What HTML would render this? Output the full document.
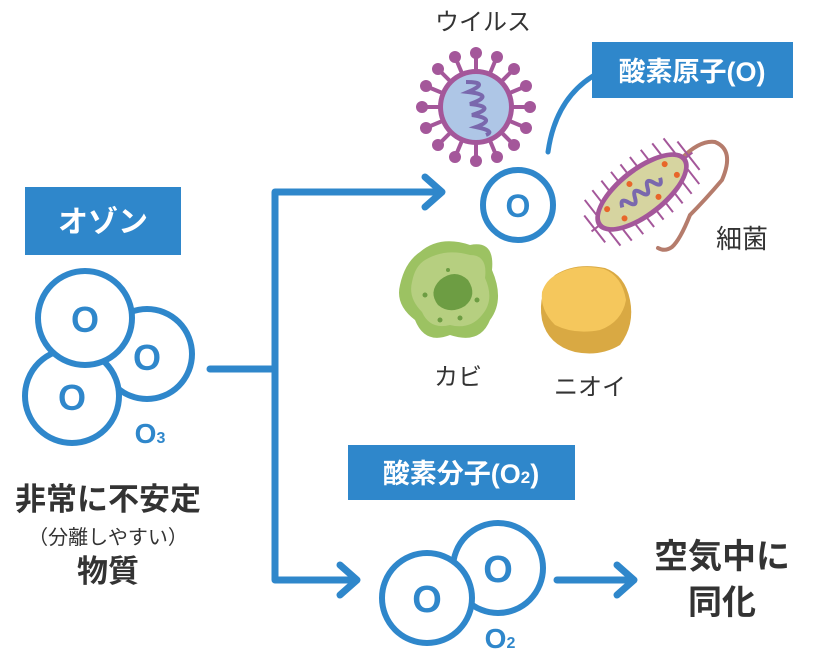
<!DOCTYPE html>
<html><head><meta charset="utf-8"><style>
html,body{margin:0;padding:0;background:#fff;}
svg{display:block;}
text{font-family:"Liberation Sans","Noto Sans CJK JP",sans-serif;}
</style></head><body>
<svg width="820" height="651" viewBox="0 0 820 651" xmlns="http://www.w3.org/2000/svg">
<g fill="none" stroke="#2f87cb" stroke-width="7" stroke-linecap="round" stroke-linejoin="round">
<path d="M210 369 H275 M275 192 V580 M275 192 H440 M425 177 L442 192 L425 207 M275 580 H355 M340 565 L357 580 L340 595 M557 580 H632 M617 565 L634 580 L617 595"/>
<path d="M548 152 Q556 95 600 72" stroke-width="5"/>
</g>
<g stroke="#2f87cb" stroke-width="6" fill="#fff">
<circle cx="147" cy="354" r="45"/>
<circle cx="72" cy="396" r="47"/>
<circle cx="85" cy="318" r="47"/>
<circle cx="518" cy="205" r="35"/>
<circle cx="498" cy="568" r="45"/>
<circle cx="427" cy="598" r="45"/>
</g>
<g fill="#2f87cb" font-weight="bold" text-anchor="middle">
<text x="85" y="332" font-size="36">O</text>
<text x="147" y="370" font-size="36">O</text>
<text x="72" y="410" font-size="36">O</text>
<text x="518" y="217" font-size="32">O</text>
<text x="427" y="612" font-size="38">O</text>
<text x="498" y="582" font-size="38">O</text>
<text x="150" y="443" font-size="28">O<tspan font-size="16">3</tspan></text>
<text x="500" y="648" font-size="28">O<tspan font-size="16">2</tspan></text>
</g>
<rect x="25" y="187" width="156" height="68" fill="#2f87cb"/>
<text x="103" y="232" font-size="30" font-weight="bold" fill="#fff" text-anchor="middle">オゾン</text>
<rect x="592" y="42" width="201" height="56" fill="#2f87cb"/>
<text x="692" y="81" font-size="27" font-weight="bold" fill="#fff" text-anchor="middle">酸素原子(O)</text>
<rect x="348" y="445" width="227" height="55" fill="#2f87cb"/>
<text x="461" y="483" font-size="27" font-weight="bold" fill="#fff" text-anchor="middle">酸素分子(O<tspan font-size="17">2</tspan>)</text>
<g fill="#333" text-anchor="middle">
<text x="483" y="30" font-size="24">ウイルス</text>
<text x="742" y="248" font-size="26">細菌</text>
<text x="458" y="385" font-size="24">カビ</text>
<text x="590" y="395" font-size="24">ニオイ</text>
<text x="108" y="510" font-size="31" font-weight="bold">非常に不安定</text>
<text x="108" y="544" font-size="20">（分離しやすい）</text>
<text x="108" y="582" font-size="31" font-weight="bold">物質</text>
<text x="722" y="568" font-size="34" font-weight="bold">空気中に</text>
<text x="722" y="614" font-size="34" font-weight="bold">同化</text>
</g>
<!-- virus -->
<g transform="translate(476,107)">
<g stroke="#a4579a" stroke-width="4" fill="#a4579a">
<line x1="0" y1="-52" x2="0" y2="52"/><line x1="-52" y1="0" x2="52" y2="0"/>
<line x1="-37" y1="-37" x2="37" y2="37"/><line x1="37" y1="-37" x2="-37" y2="37"/>
<line x1="-20" y1="-48" x2="20" y2="48"/><line x1="20" y1="-48" x2="-20" y2="48"/>
<line x1="-48" y1="-20" x2="48" y2="20"/><line x1="48" y1="-20" x2="-48" y2="20"/>
</g>
<g fill="#a4579a">
<circle cx="0" cy="-54" r="6"/><circle cx="0" cy="54" r="6"/><circle cx="-54" cy="0" r="6"/><circle cx="54" cy="0" r="6"/>
<circle cx="-38" cy="-38" r="6"/><circle cx="38" cy="38" r="6"/><circle cx="38" cy="-38" r="6"/><circle cx="-38" cy="38" r="6"/>
<circle cx="-21" cy="-50" r="6"/><circle cx="21" cy="50" r="6"/><circle cx="21" cy="-50" r="6"/><circle cx="-21" cy="50" r="6"/>
<circle cx="-50" cy="-21" r="6"/><circle cx="50" cy="21" r="6"/><circle cx="50" cy="-21" r="6"/><circle cx="-50" cy="21" r="6"/>
</g>
<circle r="38" fill="#a4579a"/>
<circle r="33" fill="#aec6e6"/>
<path d="M-10 -25 Q15 -25 -8 -15 Q20 -12 -6 -3 Q22 0 -4 8 Q22 12 0 20 Q20 24 10 28" fill="none" stroke="#7a68ad" stroke-width="4"/>
</g>
<!-- bacterium -->
<path d="M682 158 Q700 140 715 142 Q735 150 722 180 Q705 200 690 215 Q680 240 672 247 Q665 252 658 248" fill="none" stroke="#b57c6c" stroke-width="4" stroke-linecap="round"/>
<g transform="translate(642,192) rotate(-38)">
<g stroke="#a4579a" stroke-width="2">
<line x1="-50" y1="-29" x2="-50" y2="29"/><line x1="-38" y1="-32" x2="-38" y2="32"/><line x1="-25" y1="-34" x2="-25" y2="34"/><line x1="-12" y1="-35" x2="-12" y2="35"/><line x1="0" y1="-35" x2="0" y2="35"/><line x1="12" y1="-35" x2="12" y2="35"/><line x1="25" y1="-34" x2="25" y2="34"/><line x1="38" y1="-32" x2="38" y2="32"/><line x1="50" y1="-29" x2="50" y2="29"/>
<line x1="-64" y1="0" x2="64" y2="0"/><line x1="-60" y1="-17" x2="-60" y2="17"/><line x1="59" y1="-18" x2="59" y2="18"/>
</g>
<ellipse rx="56" ry="25" fill="#a4579a"/>
<ellipse rx="51" ry="20" fill="#d6d4a0"/>
<path d="M-25 0 q4 -10 8 0 q4 10 8 0 q4 -10 8 0 q4 10 8 0 q4 -10 8 0 q4 10 8 0" fill="none" stroke="#7a68ad" stroke-width="4"/>
<g fill="#e8662a"><circle cx="-38" cy="-8" r="3"/><circle cx="-30" cy="10" r="3"/><circle cx="35" cy="-8" r="3"/><circle cx="38" cy="8" r="3"/><circle cx="-5" cy="-14" r="3"/><circle cx="10" cy="14" r="3"/></g>
</g>
<!-- mold -->
<path d="M420 252 Q440 235 470 245 Q495 240 492 270 Q505 300 490 320 Q480 345 450 335 Q425 345 415 320 Q395 305 400 285 Q405 262 420 252Z" fill="#9cc262"/>
<path d="M425 260 Q445 248 470 255 Q488 255 485 278 Q495 300 482 315 Q470 330 450 325 Q430 330 422 312 Q408 298 412 282 Q415 266 425 260Z" fill="#b6cf80"/>
<path d="M440 280 Q455 268 468 280 Q478 295 465 306 Q450 315 438 305 Q428 292 440 280Z" fill="#6d9d43"/>
<g fill="#6d9d43"><circle cx="425" cy="295" r="2.5"/><circle cx="440" cy="320" r="2.5"/><circle cx="460" cy="318" r="2.5"/><circle cx="477" cy="300" r="2.5"/><circle cx="448" cy="270" r="2"/></g>
<!-- odor -->
<path d="M555 275 Q575 262 605 268 Q625 275 630 300 Q635 325 620 345 Q600 357 575 352 Q548 345 542 320 Q537 292 555 275Z" fill="#d9a943"/>
<path d="M556 275 Q576 263 604 269 Q622 276 626 300 Q622 322 600 330 Q575 335 555 325 Q540 310 542 292 Q546 280 556 275Z" fill="#f5c75c"/>
</svg>
</body></html>
